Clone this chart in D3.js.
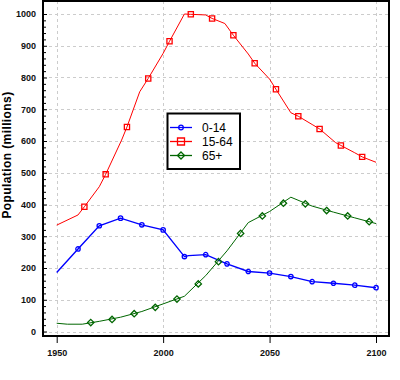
<!DOCTYPE html>
<html><head><meta charset="utf-8">
<script src="https://cdn.jsdelivr.net/npm/d3@7"></script>
<style>
body{margin:0;background:#fff;}
svg{display:block;font-family:"Liberation Sans",Arial,sans-serif;}
</style></head>
<body><div id="chart"></div>
<script>
// ---- data ----
const seriesNames = ["0-14", "15-64", "65+"];
const colors = ["#0000ff", "#ff0000", "#006600"];

const years0_14 = [1950,1960,1970,1980,1990,2000,2010,2012,2020,2030,2040,2050,2060,2070,2080,2090,2100];
const pop0_14   = [186, 260, 333, 357, 336, 320, 236, 239, 242, 213, 189, 184, 173, 157, 152, 146, 138];
const markerYears0_14 = [1960,1970,1980,1990,2000,2010,2020,2030,2040,2050,2060,2070,2080,2090,2100];
const markerPop0_14   = [260, 333, 357, 336, 320, 236, 242, 213, 189, 184, 173, 157, 152, 146, 138];

const years15_64 = [1950,1960,1963,1970,1973,1980.5,1983,1989,1993,2000,2003,2010,2013,2020,2023,2029,2033,2040,2043,2050,2053,2060,2063.5,2070,2073.5,2081,2083.5,2090,2093.5,2100];
const pop15_64   = [335, 367, 393, 456, 495, 603, 644, 755, 797, 876, 914, 1000, 999, 997, 986, 970, 933, 874, 845, 795, 763, 689, 678, 652, 638, 595, 586, 563, 550, 533];
const markerYears15_64 = [1963,1973,1983,1993,2003,2013,2023,2033,2043,2053,2063.5,2073.5,2083.5,2093.5];
const markerPop15_64   = [393, 495, 644, 797, 914, 999, 986, 933, 845, 763, 678, 638, 586, 550];

const years65 = [1950,1955,1962,1970,1980,1990,2000,2010,2020,2030,2040,2050,2060,2070,2080,2090,2100];
const pop65   = [26, 23, 23, 32, 45, 63, 87, 111, 176, 254, 343, 378, 423, 395, 376, 358, 340];
const markerYears65 = [1966,1976,1986.4,1996.3,2006.5,2016.5,2026,2036.4,2046.6,2056.5,2066.8,2076.8,2086.7,2096.8];
const markerPop65   = [28, 38, 56, 76, 102, 150, 220, 309, 364, 404, 402, 381, 364, 346];

const yTicks = [0,100,200,300,400,500,600,700,800,900,1000];
const xTicks = [1950,2000,2050,2100];
const yTitle = "Population (millions)";

// ---- layout ----
const W = 400, H = 380;
const frame = {left:43, right:389, top:1, bottom:336};
const svg = d3.select("#chart").append("svg").attr("width",W).attr("height",H);

const x = d3.scaleLinear().domain([1950,2100]).range([56.7,376]);
const y = d3.scaleLinear().domain([0,1000]).range([331.5,14]);

// grid
const grid = svg.append("g").attr("stroke","#cccccc").attr("stroke-width",1).attr("stroke-dasharray","3,3");
grid.selectAll("line.h").data(yTicks).join("line").attr("class","h")
  .attr("x1",frame.left).attr("x2",frame.right)
  .attr("y1",d=>Math.round(y(d))+0.5).attr("y2",d=>Math.round(y(d))+0.5);
grid.selectAll("line.v").data(xTicks).join("line").attr("class","v")
  .attr("y1",frame.top).attr("y2",frame.bottom)
  .attr("x1",d=>Math.round(x(d))+0.5).attr("x2",d=>Math.round(x(d))+0.5);

// clip
svg.append("clipPath").attr("id","clip").append("rect")
  .attr("x",frame.left).attr("y",frame.top).attr("width",frame.right-frame.left).attr("height",frame.bottom-frame.top);

const series = [
  {name:seriesNames[0], color:colors[0], xs:years0_14, ys:pop0_14, mx:markerYears0_14, my:markerPop0_14, shape:"circle", width:1.4},
  {name:seriesNames[1], color:colors[1], xs:years15_64, ys:pop15_64, mx:markerYears15_64, my:markerPop15_64, shape:"square", width:1},
  {name:seriesNames[2], color:colors[2], xs:years65, ys:pop65, mx:markerYears65, my:markerPop65, shape:"diamond", width:1}
];

function markerPath(shape, cx, cy, s){
  if(shape==="circle"){
    const r=s;
    return `M${cx-r},${cy}a${r},${r} 0 1,0 ${2*r},0a${r},${r} 0 1,0 ${-2*r},0Z`;
  }
  if(shape==="square"){
    return `M${cx-s},${cy-s}h${2*s}v${2*s}h${-2*s}Z`;
  }
  return `M${cx},${cy-s}L${cx+s},${cy}L${cx},${cy+s}L${cx-s},${cy}Z`;
}
const markerSize = {circle:2.2, square:2.6, diamond:3.2};
const legendMarkerSize = {circle:2.3, square:3.5, diamond:3.5};

const plot = svg.append("g").attr("clip-path","url(#clip)");
series.forEach(s=>{
  const pts = s.xs.map((v,i)=>[v,s.ys[i]]);
  const line = d3.line().x(d=>x(d[0])).y(d=>y(d[1])).curve(d3.curveLinear);
  plot.append("path").attr("d",line(pts)).attr("fill","none").attr("stroke",s.color).attr("stroke-width",s.width);
  const mk = s.mx.map((v,i)=>[v,s.my[i]]);
  plot.selectAll(null).data(mk).join("path")
    .attr("d",d=>markerPath(s.shape,x(d[0]),y(d[1]),markerSize[s.shape]))
    .attr("fill","none").attr("stroke",s.color).attr("stroke-width",1.3);
});

// axes
const tickFont = g=>g.selectAll("text").attr("font-size","9px").attr("font-weight","bold").attr("fill","#111")
  .attr("font-family","'Liberation Sans',Arial,sans-serif");
const yAxis = svg.append("g").attr("transform",`translate(${frame.left},0)`)
  .call(d3.axisLeft(y).tickValues(yTicks).tickSizeInner(-4).tickSizeOuter(0).tickPadding(7).tickFormat(d3.format("d")));
yAxis.select(".domain").remove();
yAxis.selectAll(".tick line").attr("stroke","#000").attr("stroke-width",1);
tickFont(yAxis);
const yMinor = svg.append("g").attr("transform",`translate(${frame.left},0)`)
  .call(d3.axisLeft(y).tickValues(d3.range(0,1001,20).filter(v=>v%100!==0)).tickSizeInner(-3).tickSizeOuter(0).tickFormat(""));
yMinor.select(".domain").remove();
yMinor.selectAll(".tick line").attr("stroke","#000");

const xAxis = svg.append("g").attr("transform",`translate(0,${frame.bottom})`)
  .call(d3.axisBottom(x).tickValues(xTicks).tickSize(7).tickPadding(7).tickFormat(d3.format("d")));
xAxis.select(".domain").remove();
xAxis.selectAll(".tick line").attr("stroke","#000").attr("stroke-width",1);
tickFont(xAxis);

// frame
svg.append("rect").attr("x",frame.left).attr("y",frame.top)
  .attr("width",frame.right-frame.left).attr("height",frame.bottom-frame.top)
  .attr("fill","none").attr("stroke","#000").attr("stroke-width",2);

// y title
svg.append("text").attr("transform",`translate(10.5,155) rotate(-90)`)
  .attr("text-anchor","middle").attr("font-size","12px").attr("font-weight","bold")
  .attr("letter-spacing","0.4px").text(yTitle);

// legend
const lg = svg.append("g");
lg.append("rect").attr("x",167.5).attr("y",113.5).attr("width",72.5).attr("height",55.5)
  .attr("fill","#fff").attr("stroke","#000").attr("stroke-width",2);
series.forEach((s,i)=>{
  const cy = 127.5 + i*14;
  lg.append("line").attr("x1",170).attr("x2",192).attr("y1",cy).attr("y2",cy).attr("stroke",s.color).attr("stroke-width",1.3);
  lg.append("path").attr("d",markerPath(s.shape,181,cy,legendMarkerSize[s.shape]))
    .attr("fill","none").attr("stroke",s.color).attr("stroke-width",1.3);
  lg.append("text").attr("x",202).attr("y",cy).attr("dy","0.36em").attr("font-size","12px").attr("fill","#000").text(s.name);
});
</script>
</body></html>
